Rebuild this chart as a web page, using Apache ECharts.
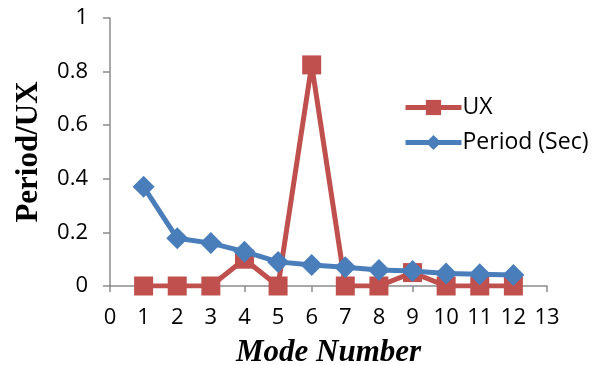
<!DOCTYPE html>
<html><head><meta charset="utf-8">
<script src="https://cdn.jsdelivr.net/npm/echarts@6/dist/echarts.min.js"></script>
<style>html,body{margin:0;padding:0;background:#fff}#c{width:601px;height:365px}</style>
</head><body><div id="c"></div>
<script>
const modes = [1,2,3,4,5,6,7,8,9,10,11,12];
const ux = [0,0,0,0.1,0,0.825,0,0,0.05,0,0,0];
const period = [0.37,0.178,0.16,0.128,0.09,0.078,0.07,0.06,0.056,0.047,0.044,0.041];
const xTicks = [0,1,2,3,4,5,6,7,8,9,10,11,12,13];
const yTicks = [0,0.2,0.4,0.6,0.8,1];

const chart = echarts.init(document.getElementById('c'), null, {renderer:'canvas'});
const axisGray = '#8c8c8c';
const lblFont = {fontFamily:'Open Sans, Liberation Sans, sans-serif', fontSize:22, color:'#000'};
chart.setOption({
  animation:false,
  grid:{left:110, right:54, top:18, bottom:79, containLabel:false, outerBoundsMode:'none'},
  legend:{
    orient:'vertical', left:398, top:91, itemWidth:56, itemHeight:19, itemGap:12,
    textStyle:Object.assign({}, lblFont, {fontSize:23, padding:[0,0,0,-4]}),
    lineStyle:{width:5},
    data:['UX','Period (Sec)']
  },
  xAxis:{
    type:'value', min:xTicks[0], max:xTicks[xTicks.length-1], interval:1,
    name:'Mode Number', nameLocation:'middle', nameGap:51,
    nameTextStyle:{fontFamily:'Liberation Serif, serif', fontWeight:'bold', fontStyle:'italic', fontSize:31, color:'#000'},
    axisLine:{lineStyle:{color:axisGray, width:1.5}},
    axisTick:{show:true, length:6, lineStyle:{color:axisGray, width:1.5}},
    axisLabel:Object.assign({}, lblFont, {margin:21}),
    splitLine:{show:false}
  },
  yAxis:{
    type:'value', min:yTicks[0], max:yTicks[yTicks.length-1], interval:0.2,
    name:'Period/UX', nameLocation:'middle', nameGap:66, nameRotate:90,
    nameTextStyle:{fontFamily:'Liberation Serif, serif', fontWeight:'bold', fontSize:31, color:'#000'},
    axisLine:{show:true, lineStyle:{color:axisGray, width:1.5}},
    axisTick:{show:true, length:7, lineStyle:{color:axisGray, width:1.5}},
    axisLabel:Object.assign({}, lblFont, {margin:22, formatter:v=>String(+v.toFixed(1))}),
    splitLine:{show:false}
  },
  series:[
    {name:'UX', type:'line', data:modes.map((m,i)=>[m,ux[i]]),
     symbol:'rect', symbolSize:19, z:2,
     lineStyle:{color:'#c0504d', width:5}, itemStyle:{color:'#c0504d'}},
    {name:'Period (Sec)', type:'line', data:modes.map((m,i)=>[m,period[i]]),
     symbol:'diamond', symbolSize:22, z:3,
     lineStyle:{color:'#4a7ebb', width:5}, itemStyle:{color:'#4a7ebb'}}
  ]
});
</script></body></html>
